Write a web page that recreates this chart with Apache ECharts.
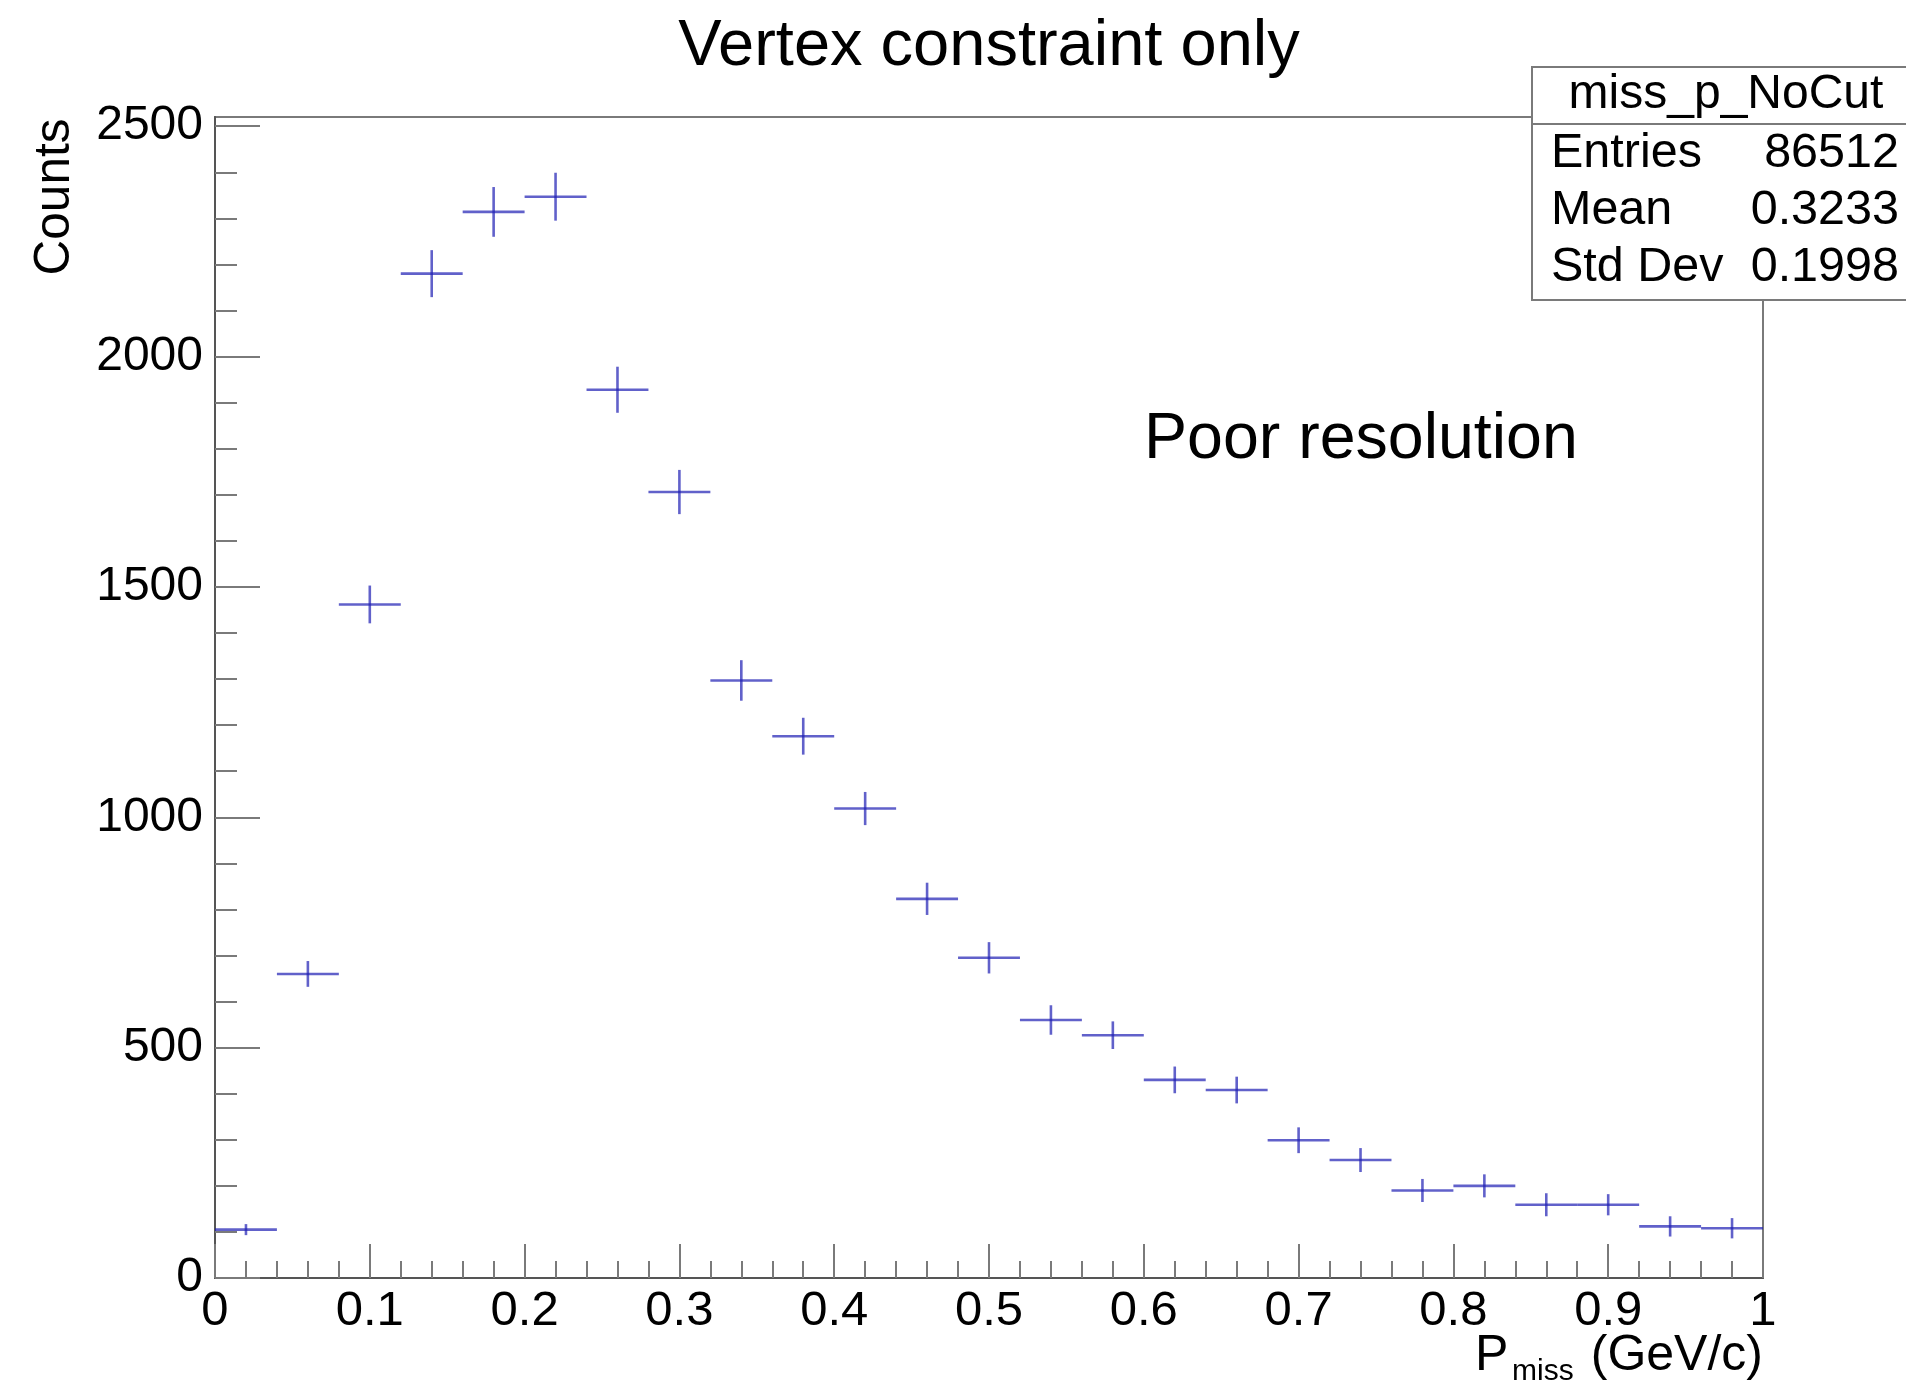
<!DOCTYPE html>
<html><head><meta charset="utf-8">
<script src="https://cdn.jsdelivr.net/npm/echarts@6/dist/echarts.min.js"></script>
<style>html,body{margin:0;padding:0;background:#fff}#c{width:1906px;height:1380px}</style>
</head><body><div id="c"></div>
<script>
// ---- data ----
const binCenters = [0.02,0.06,0.10,0.14,0.18,0.22,0.26,0.30,0.34,0.38,0.42,0.46,0.50,0.54,0.58,0.62,0.66,0.70,0.74,0.78,0.82,0.86,0.90,0.94,0.98];
const binHalfWidth = 0.02;
const counts = [105,660,1462,2180,2314,2347,1928,1706,1297,1176,1019,823,695,560,527,430,408,299,256,190,200,159,159,112,108];
const countErrors = [12,28,41,51,54,52,50,48,44,40,36,35,34,32,30,29,29,28,26,25,25,25,23,22,22];
const yMajorTicks = [0,500,1000,1500,2000,2500];
const yMinorTicks = [100,200,300,400,600,700,800,900,1100,1200,1300,1400,1600,1700,1800,1900,2100,2200,2300,2400];
const xRange = [0, 1];
const yRange = [0, 2520];
const chartTitle = 'Vertex constraint only';
const annotation = 'Poor resolution';
const statsTitle = 'miss_p_NoCut';
const statsLabels = ['Entries', 'Mean', 'Std Dev'];
const statsValues = ['86512', '0.3233', '0.1998'];

const FONT = '"Liberation Sans", Arial, Helvetica, sans-serif';
const TICK = {color:'#7a7a7a', width:2};
const chart = echarts.init(document.getElementById('c'), null, {renderer:'canvas'});

function renderItem(params, api){
  const x = api.value(0), y = api.value(1), e = api.value(2);
  const pL = api.coord([x - binHalfWidth, y]);
  const pR = api.coord([x + binHalfWidth, y]);
  const pT = api.coord([x, y + e]);
  const pB = api.coord([x, y - e]);
  const st = {stroke:'rgba(30,30,180,0.7)', lineWidth:2.6};
  return {type:'group', children:[
    {type:'line', shape:{x1:pL[0], y1:pL[1], x2:pR[0], y2:pR[1]}, style:st},
    {type:'line', shape:{x1:pT[0], y1:pT[1], x2:pB[0], y2:pB[1]}, style:st}
  ]};
}

const statsRows = [];
statsLabels.forEach((lab, i) => {
  const cy = 153.5 + i * 57;
  statsRows.push({type:'text', x:1551, y:cy, z:101, style:{text:lab, fontSize:48.5, fontFamily:FONT, fill:'#000', align:'left', verticalAlign:'middle'}});
  statsRows.push({type:'text', x:1899, y:cy, z:101, style:{text:statsValues[i], fontSize:48.5, fontFamily:FONT, fill:'#000', align:'right', verticalAlign:'middle'}});
});

const option = {
  backgroundColor:'#fff',
  animation:false,
  grid:[
    {left:215, top:117, right:143, bottom:102, show:true, borderColor:'#7a7a7a', borderWidth:2, backgroundColor:'transparent', outerBoundsMode:'none', containLabel:false},
    {left:215, top:117, right:143, bottom:102, show:false, outerBoundsMode:'none', containLabel:false}
  ],
  xAxis:[
    {type:'value', gridIndex:0, min:xRange[0], max:xRange[1], interval:0.1,
     axisLine:{show:true, onZero:false, lineStyle:{color:'#555', width:2}},
     axisTick:{show:true, inside:true, length:34, lineStyle:TICK},
     minorTick:{show:true, splitNumber:5, length:17, lineStyle:TICK},
     axisLabel:{fontSize:49, color:'#000', fontFamily:FONT, margin:9},
     splitLine:{show:false}, minorSplitLine:{show:false}},
    {type:'value', gridIndex:1, min:xRange[0], max:xRange[1], show:false}
  ],
  yAxis:[
    {type:'value', gridIndex:0, min:yRange[0], max:yRange[1],
     axisLine:{show:true, onZero:false, lineStyle:{color:'#555', width:2}},
     axisTick:{show:true, inside:true, length:45, customValues:yMajorTicks, lineStyle:TICK},
     axisLabel:{customValues:yMajorTicks, fontSize:48, color:'#000', fontFamily:FONT, margin:12,
                formatter:(v) => String(v)},
     splitLine:{show:false}},
    {type:'value', gridIndex:1, min:yRange[0], max:yRange[1],
     axisLine:{show:false},
     axisTick:{show:true, inside:true, length:22, customValues:yMinorTicks, lineStyle:TICK},
     axisLabel:{show:false}, splitLine:{show:false}}
  ],
  series:[{
    type:'custom', xAxisIndex:0, yAxisIndex:0,
    renderItem:renderItem,
    data: binCenters.map((c, i) => [c, counts[i], countErrors[i]]),
    z:10
  }],
  graphic:[
    {type:'text', x:989, y:47, style:{text:chartTitle, fontSize:65, fontFamily:FONT, fill:'#000', align:'center', verticalAlign:'middle'}},
    {type:'text', x:1144, y:440, style:{text:annotation, fontSize:64.5, fontFamily:FONT, fill:'#000', align:'left', verticalAlign:'middle'}},
    {type:'text', x:55, y:197, rotation:Math.PI/2, style:{text:'Counts', fontSize:49.5, fontFamily:FONT, fill:'#000', align:'center', verticalAlign:'middle'}},
    {type:'text', x:1475, y:1356, style:{text:'P', fontSize:50, fontFamily:FONT, fill:'#000', align:'left', verticalAlign:'middle'}},
    {type:'text', x:1512, y:1372, style:{text:'miss', fontSize:30, fontFamily:FONT, fill:'#000', align:'left', verticalAlign:'middle'}},
    {type:'text', x:1763, y:1356, style:{text:'(GeV/c)', fontSize:50, fontFamily:FONT, fill:'#000', align:'right', verticalAlign:'middle'}},
    {type:'rect', z:100, shape:{x:1532, y:67, width:400, height:233}, style:{fill:'#fff', stroke:'#7a7a7a', lineWidth:2}},
    {type:'line', z:101, shape:{x1:1532, y1:124, x2:1906, y2:124}, style:{stroke:'#7a7a7a', lineWidth:2}},
    {type:'text', x:1726, y:95, z:101, style:{text:statsTitle, fontSize:48, fontFamily:FONT, fill:'#000', align:'center', verticalAlign:'middle'}}
  ].concat(statsRows)
};
chart.setOption(option);
</script>
</body></html>
